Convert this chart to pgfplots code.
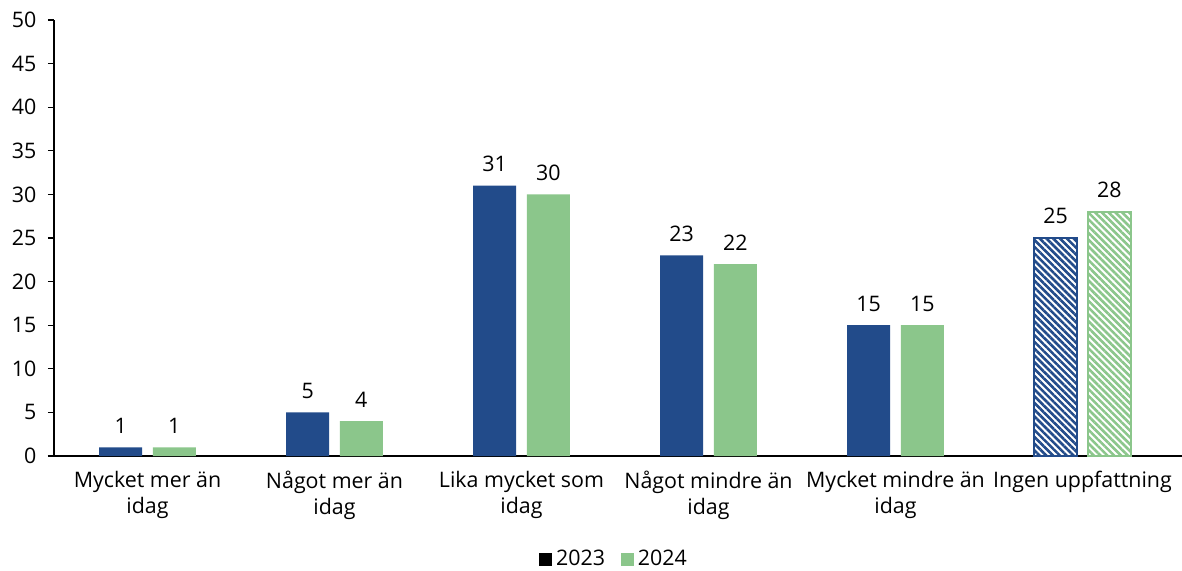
\documentclass[border=0pt]{standalone}
\usepackage{pgfplots}
\pgfplotsset{compat=1.18}
\usepackage{fontspec}
\setmainfont{Open Sans}
\usetikzlibrary{patterns.meta}
\definecolor{cblue}{RGB}{34,75,138}
\definecolor{cgreen}{RGB}{139,198,139}
\begin{document}
\fontsize{10.7pt}{12pt}\selectfont
\begin{tikzpicture}
\useasboundingbox (-27pt,-57pt) rectangle (564pt,228pt);
\begin{axis}[
  at={(0pt,0pt)}, anchor=south west,
  scale only axis,
  width=561pt, height=218pt,
  xmin=-0.5, xmax=5.5,
  ymin=0, ymax=50,
  ytick={0,5,...,50},
  xtick={0,...,5},
  xticklabels={Mycket mer än\\idag, Något mer än\\idag, Lika mycket som\\idag, Något mindre än\\idag, Mycket mindre än\\idag, Ingen uppfattning},
  xticklabel style={align=center, font=\fontsize{10.7pt}{13pt}\selectfont, yshift=-1pt},
  yticklabel style={font=\fontsize{10.7pt}{12pt}\selectfont, xshift=-2pt},
  /pgf/number format/assume math mode=true,
  axis x line=bottom, axis y line=left,
  axis line style={black, line width=0.7pt, -},
  x axis line style={shorten <=-3pt, shorten >=-3pt},
  major x tick style={draw=none},
  ytick style={black, line width=0.6pt},
  tick align=outside, major tick length=3pt,
  ybar, bar width=21.5pt,
  nodes near coords,
  nodes near coords style={font=\fontsize{10.7pt}{12pt}\selectfont, black, yshift=3pt},
  legend style={at={(0.5,-0.236)}, anchor=center, draw=none, fill=none, legend columns=2, font=\fontsize{10.7pt}{12pt}\selectfont, inner sep=0pt, /tikz/every even column/.append style={column sep=6pt}},
  legend cell align=left,
]
\addlegendimage{legend image code/.code={\fill[black] (0pt,-3pt) rectangle (6pt,3pt);}}
\addlegendentry{2023}
\addlegendimage{legend image code/.code={\fill[cgreen] (0pt,-3pt) rectangle (6pt,3pt);}}
\addlegendentry{2024}
\addplot[forget plot, bar shift=-13.4pt, fill=cblue, draw=none] coordinates {(0,1) (1,5) (2,31) (3,23) (4,15)};
\addplot[forget plot, bar shift=13.4pt, fill=cgreen, draw=none] coordinates {(0,1) (1,4) (2,30) (3,22) (4,15)};
\addplot[forget plot, bar shift=-13.4pt, draw=cblue, line width=1.2pt, pattern={Lines[angle=-45, distance=2.4pt, line width=1.3pt]}, pattern color=cblue] coordinates {(5,25)};
\addplot[forget plot, bar shift=13.4pt, draw=cgreen, line width=1.2pt, pattern={Lines[angle=-45, distance=2.4pt, line width=1.3pt]}, pattern color=cgreen] coordinates {(5,28)};
\end{axis}
\end{tikzpicture}
\end{document}
